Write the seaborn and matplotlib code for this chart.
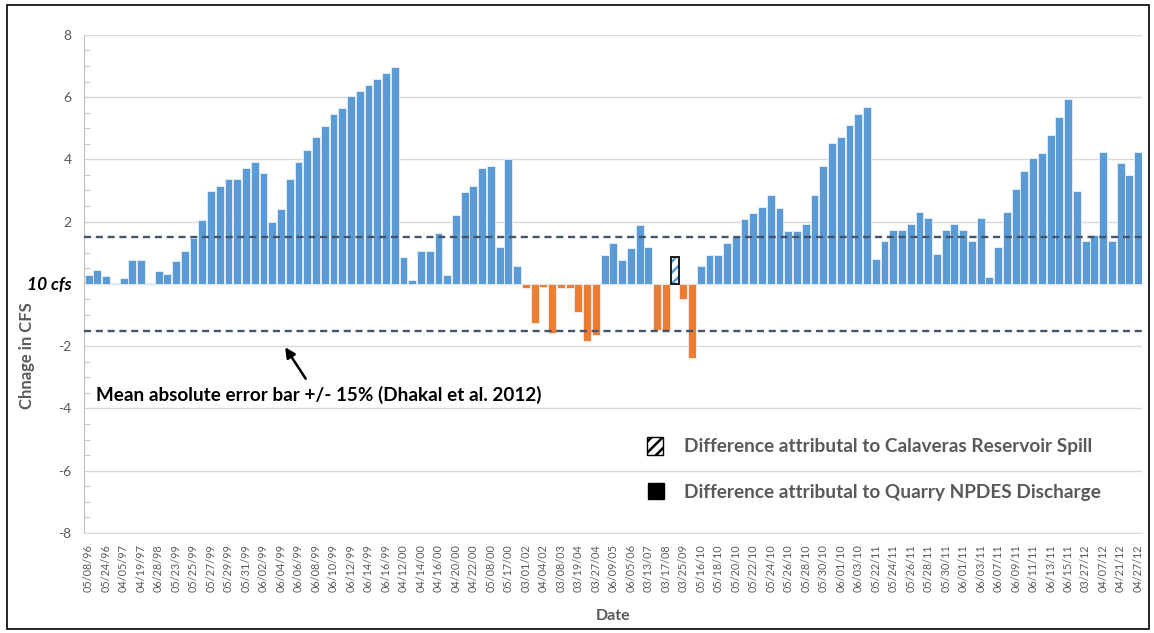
import numpy as np
import pandas as pd
import matplotlib
matplotlib.use("Agg")
import matplotlib.pyplot as plt
from matplotlib.patches import Rectangle
import seaborn as sns

change = [
    0.28, 0.45, 0.24, 0.02, 0.19, 0.77, 0.77, 0.02, 0.41, 0.32,
    0.74, 1.06, 1.47, 2.05, 2.99, 3.15, 3.37, 3.37, 3.73, 3.93,
    3.56, 2.00, 2.41, 3.37, 3.93, 4.31, 4.72, 5.08, 5.46, 5.66,
    6.02, 6.18, 6.40, 6.59, 6.76, 6.97, 0.86, 0.13, 1.06, 1.06,
    1.64, 0.29, 2.22, 2.95, 3.15, 3.73, 3.80, 1.20, 4.02, 0.58,
    -0.12, -1.26, -0.09, -1.59, -0.12, -0.12, -0.90, -1.83, -1.63, 0.93,
    1.31, 0.77, 1.15, 1.89, 1.19, -1.48, -1.48, 0.85, -0.49, -2.37,
    0.58, 0.94, 0.94, 1.31, 1.52, 2.09, 2.29, 2.47, 2.86, 2.45,
    1.71, 1.71, 1.91, 2.84, 3.78, 4.53, 4.72, 5.10, 5.47, 5.67,
    0.79, 1.37, 1.74, 1.74, 1.93, 2.30, 2.11, 0.96, 1.74, 1.93,
    1.74, 1.37, 2.11, 0.21, 1.18, 2.30, 3.05, 3.63, 4.03, 4.20,
    4.77, 5.35, 5.93, 2.97, 1.37, 1.56, 4.24, 1.39, 3.87, 3.50,
    4.24,
]

# every other bar carries a date label
tick_labels = [
    "05/08/96", "05/24/96", "04/05/97", "04/19/97", "06/28/98", "05/23/99",
    "05/25/99", "05/27/99", "05/29/99", "05/31/99", "06/02/99", "06/04/99",
    "06/06/99", "06/08/99", "06/10/99", "06/12/99", "06/14/99", "06/16/99",
    "04/12/00", "04/14/00", "04/16/00", "04/20/00", "04/22/00", "05/08/00",
    "05/17/00", "03/01/02", "04/04/02", "03/08/03", "03/19/04", "03/27/04",
    "06/09/05", "06/05/06", "03/13/07", "03/17/08", "03/25/09", "05/16/10",
    "05/18/10", "05/20/10", "05/22/10", "05/24/10", "05/26/10", "05/28/10",
    "05/30/10", "06/01/10", "06/03/10", "05/22/11", "05/24/11", "05/26/11",
    "05/28/11", "05/30/11", "06/01/11", "06/03/11", "06/07/11", "06/09/11",
    "06/11/11", "06/13/11", "06/15/11", "03/27/12", "04/07/12", "04/21/12",
    "04/27/12",
]

spill_bar = 67          # bar attributed to the Calaveras Reservoir spill
error_band = 1.5        # +/- 15% of 10 cfs

blue = "#5B9BD5"
orange = "#ED7D31"
gray = "#595959"

df = pd.DataFrame({"pos": np.arange(len(change)), "change": change})
df["kind"] = np.where(df["change"] < 0, "neg", "pos")

sns.set_style("white")
plt.rcParams["font.family"] = ["Lato", "DejaVu Sans"]
plt.rcParams["hatch.linewidth"] = 1.8

fig = plt.figure(figsize=(11.54, 6.33), dpi=100)
ax = fig.add_axes([0.073, 0.158, 0.917, 0.787])

sns.barplot(data=df, x="pos", y="change", hue="kind",
            palette={"pos": blue, "neg": orange}, dodge=False, saturation=1,
            width=0.9, edgecolor="#EAF1FA", linewidth=0.6,
            legend=False, ax=ax)

# hatched spill bar
for p in ax.patches:
    cx = p.get_x() + p.get_width() / 2
    if abs(cx - spill_bar) < 0.3:
        p.set_facecolor("white")
        p.set_edgecolor(blue)
        p.set_hatch("///")
        p.set_linewidth(0)
        ax.add_patch(Rectangle(p.get_xy(), p.get_width(), p.get_height(),
                               fill=False, edgecolor="#1a1a1a", lw=1.4, zorder=3))

ax.axhline(error_band, color="#44546A", lw=1.7, dashes=(3.0, 2.0), zorder=4)
ax.axhline(-error_band, color="#44546A", lw=1.7, dashes=(3.0, 2.0), zorder=4)

ax.set_xlim(-0.5, len(change) - 0.5)
ax.set_ylim(-8, 8)
ax.set_yticks(np.arange(-8, 9, 2))
ax.set_yticks(np.arange(-8, 8.5, 0.5), minor=True)
ylabels = [str(v) for v in range(-8, 9, 2)]
ylabels[4] = "10 cfs"
ax.set_yticklabels(ylabels)
for t in ax.get_yticklabels():
    if t.get_text() == "10 cfs":
        t.set_fontweight("bold")
        t.set_fontstyle("italic")
        t.set_fontsize(12.5)
        t.set_color("black")
    else:
        t.set_fontsize(10)
        t.set_color(gray)
ax.tick_params(axis="y", which="major", direction="inout", length=6, color="#BFBFBF", pad=6)
ax.tick_params(axis="y", which="minor", direction="in", length=4, color="#BFBFBF", left=True)

ax.set_xticks(np.arange(0, len(change), 2))
ax.set_xticklabels(tick_labels, rotation=90, fontsize=7.8, color=gray)
ax.tick_params(axis="x", length=0, pad=8)

ax.grid(axis="y", which="major", color="#D9D9D9", lw=1)
ax.set_axisbelow(True)
for s in ["top", "right"]:
    ax.spines[s].set_visible(False)
ax.spines["left"].set_color("#BFBFBF")
ax.spines["bottom"].set_color("#D9D9D9")

ax.set_xlabel("Date", fontsize=11.5, fontweight="bold", color=gray, labelpad=12)
ax.set_ylabel("Chnage in CFS", fontsize=12, fontweight="bold", color=gray)
ax.yaxis.set_label_coords(-0.047, 0.357)

ax.annotate("", xy=(22.3, -1.96), xytext=(25.0, -3.12),
            arrowprops=dict(arrowstyle="-|>", color="black", lw=1.8, mutation_scale=15))
ax.text(0.011, -3.57, "Mean absolute error bar +/- 15% (Dhakal et al. 2012)",
        transform=ax.get_yaxis_transform(), fontsize=13.6, fontweight="bold",
        color="black", va="center", ha="left")

# manual key
ax.add_patch(Rectangle((0.532, 0.157), 0.0152, 0.036, transform=ax.transAxes,
                       facecolor="white", edgecolor="black", hatch="///", lw=1, clip_on=False))
ax.add_patch(Rectangle((0.533, 0.068), 0.0152, 0.032, transform=ax.transAxes,
                       facecolor="black", edgecolor="black", lw=1, clip_on=False))
ax.text(0.567, 0.173, "Difference attributal to Calaveras Reservoir Spill",
        transform=ax.transAxes, fontsize=13.7, fontweight="bold", color=gray, va="center")
ax.text(0.567, 0.081, "Difference attributal to Quarry NPDES Discharge",
        transform=ax.transAxes, fontsize=13.7, fontweight="bold", color=gray, va="center")

fig.add_artist(Rectangle((0.006, 0.006), 0.99, 0.986, transform=fig.transFigure,
                         fill=False, edgecolor="black", lw=1.2))

fig.savefig("out.png", dpi=100, facecolor="white")
